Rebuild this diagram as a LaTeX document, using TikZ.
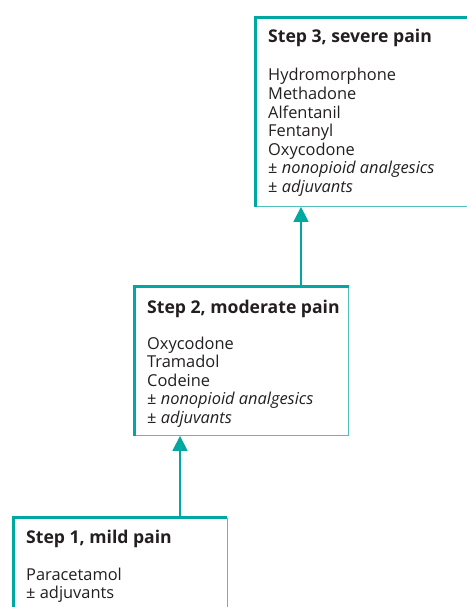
\documentclass[tikz,border=0pt]{standalone}
\usepackage{fontspec}
\setmainfont{Open Sans}
\usetikzlibrary{arrows.meta,calc}
\definecolor{teal1}{RGB}{0,168,162}
\definecolor{teal2}{RGB}{80,192,188}
\definecolor{ink}{RGB}{35,31,32}
\tikzset{
  stepbox/.style={anchor=north west, inner sep=0pt, draw=none},
  thinedge/.style={draw=teal2, line width=1.1pt},
  thickedge/.style={draw=teal1, line width=3.4pt, line join=miter},
  titletext/.style={anchor=base west, inner sep=0pt, text=ink, font=\fontsize{17.6}{20}\selectfont\bfseries},
  bodytext/.style={anchor=base west, inner sep=0pt, text=ink, font=\fontsize{16.4}{18.6}\selectfont},
  arr/.style={draw=teal1, line width=1.5pt, -{Triangle[width=15pt,length=15pt]}}
}
\begin{document}
\begin{tikzpicture}[x=1pt,y=-1pt]
\useasboundingbox (0,0) rectangle (466,607);
% boxes
\node[stepbox, minimum width=216pt, minimum height=189pt] (b3) at (255.5,17.5) {};
\node[stepbox, minimum width=214pt, minimum height=149pt] (b2) at (134.5,286.5) {};
\node[stepbox, minimum width=213.5pt, minimum height=100pt] (b1) at (13.5,517.5) {};
\foreach \b in {b1,b2,b3}{
  \draw[thinedge] (\b.north east) -- (\b.south east) -- (\b.south west);
  \draw[thickedge] (\b.south west) -- (\b.north west) -- (\b.north east);
}
% texts
\node[titletext] (t3) at (268,43) {Step 3, severe pain};
\node[bodytext] (l3) at (268,81) {\parbox[t]{190pt}{\raggedright Hydromorphone\\Methadone\\Alfentanil\\Fentanyl\\Oxycodone\\± \textit{nonopioid analgesics}\\± \textit{adjuvants}}};
\node[titletext] (t2) at (147,313) {Step 2, moderate pain};
\node[bodytext] (l2) at (147,349) {\parbox[t]{190pt}{\raggedright Oxycodone\\Tramadol\\Codeine\\± \textit{nonopioid analgesics}\\± \textit{adjuvants}}};
\node[titletext] (t1) at (26,543) {Step 1, mild pain};
\node[bodytext] (l1) at (26,580) {\parbox[t]{190pt}{\raggedright Paracetamol\\± adjuvants}};
% arrows
\draw[arr] ($(b2.north west)+(166.5,0)$) coordinate (a2) -- (a2 |- b3.south);
\draw[arr] ($(b1.north west)+(166.5,0)$) coordinate (a1) -- (a1 |- b2.south);
\end{tikzpicture}
\end{document}
